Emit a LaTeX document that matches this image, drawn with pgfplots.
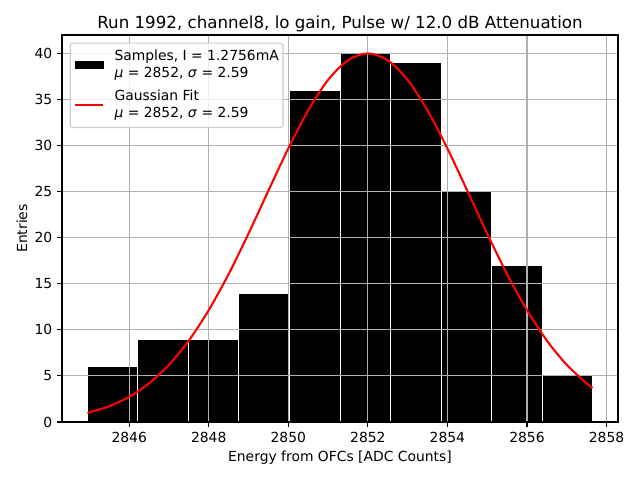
\documentclass[border=0pt]{standalone}
\usepackage{fontspec}
\setmainfont{DejaVu Sans}
\usepackage{pgfplots}
\pgfplotsset{compat=1.18}
\definecolor{gridgray}{HTML}{B0B0B0}
\definecolor{legedge}{HTML}{CCCCCC}

\pgfplotsset{
  frame/.style={
    at={(0,0)}, anchor=south west,
    scale only axis, width=400.32pt, height=278.64pt,
    xmin=2844.311, xmax=2858.289, ymin=0, ymax=42,
  },
}

\begin{document}
\begin{tikzpicture}
\path[use as bounding box] (-44.64pt,-41.76pt) rectangle (416.16pt,303.84pt);
% histogram, grid drawn over the bars
\begin{axis}[
  frame, axis on top,
  xtick={2846,2848,2850,2852,2854,2856,2858},
  ytick={0,5,10,15,20,25,30,35,40},
  xtick pos=bottom, ytick pos=left,
  tick align=outside, major tick length=3.5pt,
  every tick/.style={black, line width=0.8pt},
  axis line style={line width=0.8pt},
  grid=major, major grid style={gridgray, line width=0.8pt},
  /pgf/number format/assume math mode=true,
  /pgf/number format/1000 sep={},
  tick label style={font=\fontsize{10}{12}\selectfont},
  title={Run 1992, channel8, lo gain, Pulse w/ 12.0 dB Attenuation},
  title style={anchor=base, yshift=-1pt, font=\fontsize{12}{14}\selectfont},
  xlabel={Energy from OFCs [ADC Counts]},
  xlabel style={at={(axis description cs:0.5,0)}, anchor=center, yshift=-26pt,
    font=\fontsize{10}{12}\selectfont},
  ylabel={Entries},
  ylabel style={at={(axis description cs:-0.072,0.5)}, anchor=center,
    font=\fontsize{10}{12}\selectfont},
]
\addplot[ybar interval, fill=black, draw=white, line width=0.7pt]
  coordinates {
  (2844.946,6) (2846.2168,9) (2847.4876,9) (2848.7584,14) (2850.0292,36)
  (2851.3000,40) (2852.5708,39) (2853.8416,25) (2855.1124,17) (2856.3832,5)
  (2857.654,5)
  };
\end{axis}
% gaussian fit and legend, above the grid
\begin{axis}[
  frame, hide axis,
  legend style={at={(0,1)}, anchor=north west, xshift=5.5pt, yshift=-5.5pt,
    draw=legedge, line width=0.8pt, rounded corners=2pt,
    fill=white, fill opacity=0.8, draw opacity=1, text opacity=1,
    font=\fontsize{10}{12}\selectfont,
    inner xsep=3pt, inner ysep=4pt,
    nodes={inner xsep=0pt, inner ysep=0pt, text depth=},
    row sep=4.8pt, column sep=7.4pt},
  legend cell align=left,
]
\addlegendimage{legend image code/.code={\fill[black, fill opacity=1, sharp corners] (0pt,-2.5pt) rectangle (20pt,2.5pt);}}
\addlegendentry{\begin{tabular}{@{}l@{}}Samples, I = 1.2756mA\\\textit{μ} = 2852, \textit{σ} = 2.59\end{tabular}}
\addplot[red, line width=1.5pt, smooth, no marks,
  legend image code/.code={\draw[red, line width=1.5pt, draw opacity=1, sharp corners] (0pt,0pt) -- (20pt,0pt);}]
  coordinates {
  (2844.95,0.984) (2845.5,1.716) (2846.0,2.734) (2846.5,4.196)
  (2847.0,6.205) (2847.5,8.842) (2848.0,12.138) (2848.5,16.051)
  (2849.0,20.450) (2849.5,25.104) (2850.0,29.686) (2850.5,33.824)
  (2851.0,37.127) (2851.5,39.262) (2852.0,40.000) (2852.5,39.262)
  (2853.0,37.127) (2853.5,33.824) (2854.0,29.686) (2854.5,25.104)
  (2855.0,20.450) (2855.5,16.051) (2856.0,12.138) (2856.5,8.842)
  (2857.0,6.205) (2857.5,4.196) (2857.65,3.705)
  };
\addlegendentry{\begin{tabular}{@{}l@{}}Gaussian Fit\\\textit{μ} = 2852, \textit{σ} = 2.59\end{tabular}}
\end{axis}
\end{tikzpicture}
\end{document}
